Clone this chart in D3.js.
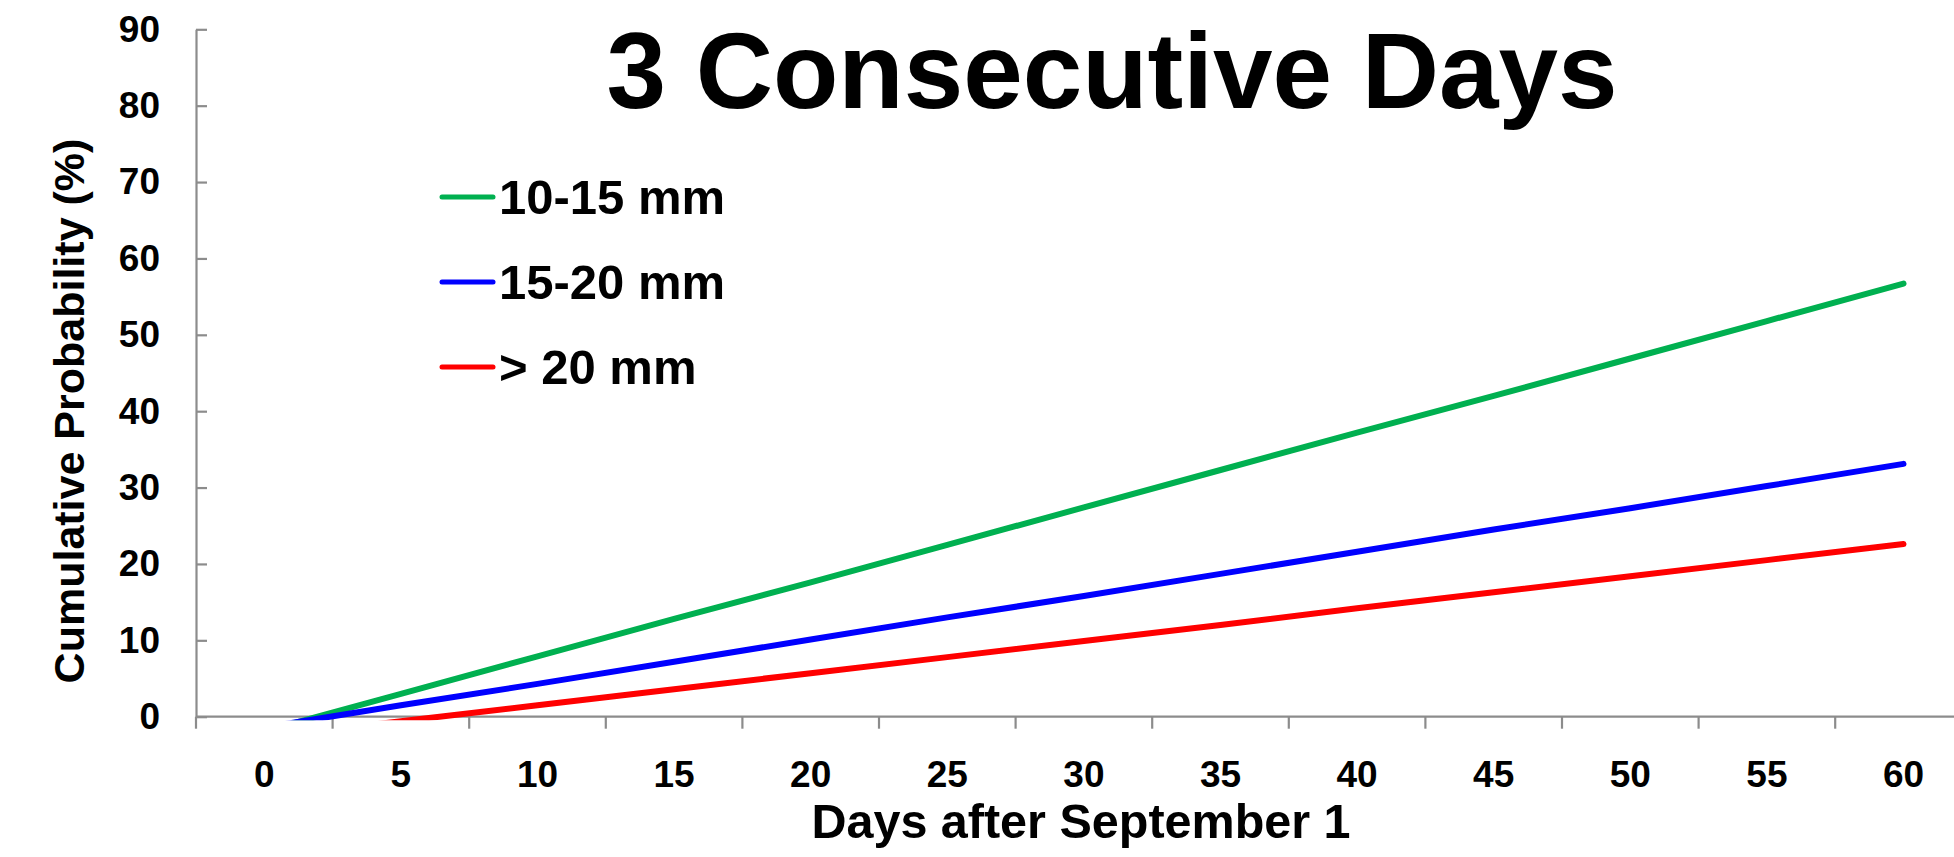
<!DOCTYPE html>
<html>
<head>
<meta charset="utf-8">
<script src="https://cdn.jsdelivr.net/npm/d3@7"></script>
<style>
  html, body { margin: 0; padding: 0; background: #fff; }
  svg { display: block; }
  text { font-family: "Liberation Sans", Arial, sans-serif; font-weight: bold; fill: #000; }
</style>
</head>
<body>
<svg id="chart" width="1954" height="857"></svg>
<script>
// ---- data ----
const categories = ["0","5","10","15","20","25","30","35","40","45","50","55","60"];
const seriesNames = ["10-15 mm", "15-20 mm", "> 20 mm"];
const green = [-1.9, 3.0, 7.9, 12.8, 17.6, 22.5, 27.4, 32.3, 37.2, 42.0, 46.9, 51.8, 56.7];
const blue  = [-1.4, 1.5, 4.3, 7.2, 10.1, 13.0, 15.8, 18.7, 21.6, 24.5, 27.3, 30.2, 33.1];
const red   = [-2.7, -0.6, 1.5, 3.6, 5.7, 7.8, 9.9, 12.0, 14.2, 16.3, 18.4, 20.5, 22.6];
const yTicks = [0, 10, 20, 30, 40, 50, 60, 70, 80, 90];
const colors = ["#00B050", "#0000FF", "#FF0000"];
const titleText = "3 Consecutive Days";
const xTitle = "Days after September 1";
const yTitle = "Cumulative Probability (%)";

const svg = d3.select("#chart");
const axisColor = "#8c8c8c";

const plotLeft = 196, plotTop = 29.3, plotBottom = 716.7;
const bandW = 136.6;
const x = d3.scaleBand().domain(categories).range([plotLeft, plotLeft + bandW * categories.length]).padding(0);
const y = d3.scaleLinear().domain([0, 90]).range([plotBottom, plotTop]);
const cx = c => x(c) + x.bandwidth() / 2;

// clip for plot area
svg.append("defs").append("clipPath").attr("id", "plotclip")
  .append("rect").attr("x", plotLeft).attr("y", 0).attr("width", 1954 - plotLeft).attr("height", plotBottom + 3.6);

// Y axis
const yAxis = d3.axisLeft(y).tickValues(yTicks).tickSizeInner(-11).tickSizeOuter(0).tickPadding(36);
const gy = svg.append("g").attr("transform", `translate(${plotLeft},0)`).call(yAxis);
gy.select(".domain").attr("stroke", axisColor).attr("stroke-width", 2.2);
gy.selectAll(".tick line").attr("stroke", axisColor).attr("stroke-width", 2.2);
gy.selectAll(".tick text").attr("font-size", 37).attr("font-family", "Liberation Sans, Arial, sans-serif").attr("font-weight", "bold").attr("fill", "#000");

// X axis: ticks at category boundaries, labels at centers
const boundaries = categories.map(c => x(c));
const gx = svg.append("g");
gx.append("line").attr("x1", plotLeft).attr("x2", 1954).attr("y1", plotBottom).attr("y2", plotBottom)
  .attr("stroke", axisColor).attr("stroke-width", 2.2);
gx.selectAll("line.tk").data(boundaries).enter().append("line").attr("class", "tk")
  .attr("x1", d => d).attr("x2", d => d).attr("y1", plotBottom).attr("y2", plotBottom + 12)
  .attr("stroke", axisColor).attr("stroke-width", 2.2);
gx.selectAll("text.lb").data(categories).enter().append("text").attr("class", "lb")
  .attr("x", d => cx(d)).attr("y", 787).attr("text-anchor", "middle").attr("font-size", 37).text(d => d);

// Lines
const line = d3.line().x((d, i) => cx(categories[i])).y(d => y(d));
const gl = svg.append("g").attr("clip-path", "url(#plotclip)");
[green, blue, red].forEach((s, k) => {
  gl.append("path").datum(s).attr("d", line).attr("fill", "none")
    .attr("stroke", colors[k]).attr("stroke-width", 6).attr("stroke-linecap", "round").attr("stroke-linejoin", "round");
});

// Legend
const legY = [197, 282, 367];
seriesNames.forEach((n, k) => {
  svg.append("line").attr("x1", 442).attr("x2", 493).attr("y1", legY[k]).attr("y2", legY[k])
    .attr("stroke", colors[k]).attr("stroke-width", 5).attr("stroke-linecap", "round");
  svg.append("text").attr("x", 499).attr("y", legY[k] + 16.5).attr("font-size", 49).text(n);
});

// Title
svg.append("text").attr("x", 1112).attr("y", 108).attr("text-anchor", "middle").attr("font-size", 107).text(titleText);

// Axis titles
svg.append("text").attr("x", 1081).attr("y", 838).attr("text-anchor", "middle").attr("font-size", 48.5).text(xTitle);
svg.append("text").attr("transform", "translate(84,411) rotate(-90)").attr("text-anchor", "middle").attr("font-size", 43).text(yTitle);
</script>
</body>
</html>
